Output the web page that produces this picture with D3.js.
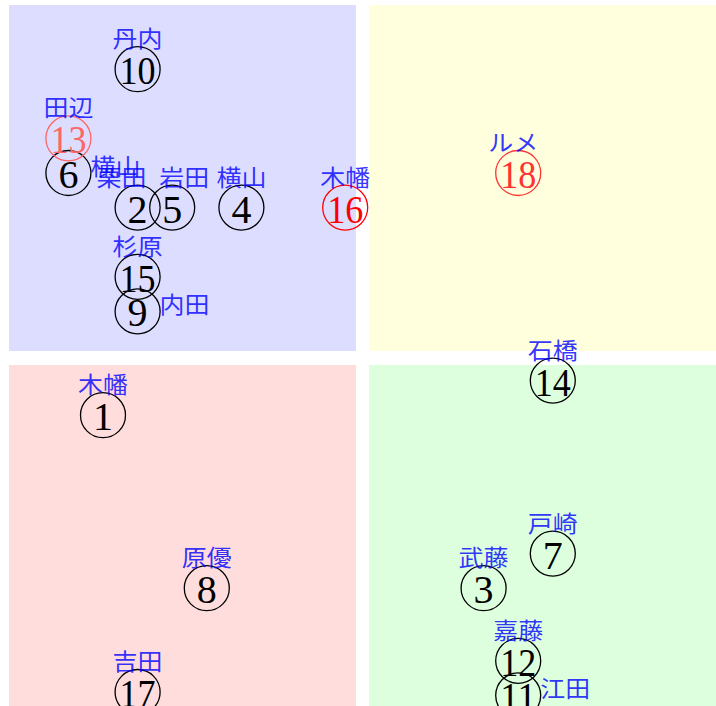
<!DOCTYPE html>
<html>
<head>
<meta charset="utf-8">
<script src="https://cdn.jsdelivr.net/npm/d3@7"></script>
<style>
  body { margin: 0; background: #fff; }
  svg { display: block; }
</style>
</head>
<body>
<svg id="chart"></svg>
<script>
const width = 716;
const height = 706;

// horse numbers, names and their position on the two axes
const nums = [1, 2, 3, 4, 5, 6, 7, 8, 9, 10, 11, 12, 13, 14, 15, 16, 17, 18];
const names = ['木幡', '栗田', '武藤', '横山', '岩田', '横山', '戸崎', '原優', '内田',
               '丹内', '江田', '嘉藤', '田辺', '石橋', '杉原', '木幡', '吉田', 'ルメ'];
const xVals = [-7.5, -6.5, 3.5, -3.5, -5.5, -8.5, 5.5, -4.5, -6.5,
               -6.5, 4.5, 4.5, -8.5, 5.5, -6.5, -0.5, -6.5, 4.5];
const yVals = [-2, 4, -7, 4, 4, 5, -6, -7, 1,
               8, -10.1, -9.1, 6, -1, 2, 4, -10, 5];
// 0 = none, 1..3 = pick strength
const picks = [0, 0, 0, 0, 0, 0, 0, 0, 0, 0, 0, 0, 1, 0, 0, 3, 0, 2];

const horses = nums.map((n, i) => ({
  num: n, name: names[i], x: xVals[i], y: yVals[i], pick: picks[i]
}));

const svg = d3.select('#chart')
  .attr('width', width)
  .attr('height', height);

const x = d3.scaleLinear().domain([-10, 10]).range([16.5, 708.5]);
const y = d3.scaleLinear().domain([-10, 10]).range([692, 0]);

// quadrant backgrounds
const quads = [
  { x0: 9, y0: 5, x1: 356, y1: 351, fill: '#ddddff' },
  { x0: 369, y0: 5, x1: 716, y1: 351, fill: '#ffffdd' },
  { x0: 9, y0: 365, x1: 356, y1: 712, fill: '#ffdddd' },
  { x0: 369, y0: 365, x1: 716, y1: 712, fill: '#ddffdd' }
];
svg.append('g')
  .selectAll('rect')
  .data(quads)
  .enter()
  .append('rect')
  .attr('x', d => d.x0)
  .attr('y', d => d.y0)
  .attr('width', d => d.x1 - d.x0)
  .attr('height', d => d.y1 - d.y0)
  .attr('fill', d => d.fill);

const pickColor = d3.scaleOrdinal()
  .domain([0, 1, 2, 3])
  .range(['#000000', '#ff6666', '#ff3333', '#ff0000']);

// circles + numbers
const marks = svg.append('g')
  .selectAll('g')
  .data(horses)
  .enter()
  .append('g')
  .attr('transform', d => `translate(${x(d.x)},${y(d.y)})`);

marks.append('circle')
  .attr('r', 22.5)
  .attr('fill', 'none')
  .attr('stroke', d => pickColor(d.pick))
  .attr('stroke-width', 1.3);

marks.append('text')
  .attr('text-anchor', 'middle')
  .attr('y', 15)
  .attr('font-family', '"Liberation Serif", "DejaVu Serif", serif')
  .attr('font-size', 40)
  .attr('fill', d => pickColor(d.pick))
  .attr('textLength', d => d.num > 9 ? 36 : null)
  .attr('lengthAdjust', 'spacingAndGlyphs')
  .text(d => d.num);

// labels sit above the circle, a few go to the right to dodge neighbours
const rightSide = [6, 9, 11];
const nudge = { 2: -16, 5: 12, 18: -5 };

svg.append('g')
  .selectAll('text')
  .data(horses)
  .enter()
  .append('text')
  .attr('x', d => rightSide.includes(d.num)
    ? x(d.x) + 22
    : x(d.x) + (nudge[d.num] || 0))
  .attr('y', d => rightSide.includes(d.num) ? y(d.y) + 2 : y(d.y) - 22)
  .attr('text-anchor', d => rightSide.includes(d.num) ? 'start' : 'middle')
  .attr('font-family', '"Noto Sans CJK JP", sans-serif')
  .attr('font-size', 23)
  .attr('textLength', d => d.name.length * 25)
  .attr('lengthAdjust', 'spacingAndGlyphs')
  .attr('fill', 'blue')
  .attr('fill-opacity', 0.8)
  .text(d => d.name);
</script>
</body>
</html>
